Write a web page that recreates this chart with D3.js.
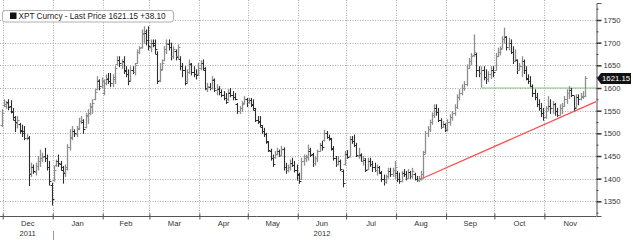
<!DOCTYPE html>
<html><head><meta charset="utf-8">
<script src="https://cdn.jsdelivr.net/npm/d3@7"></script>
<style>html,body{margin:0;padding:0;background:#fff;}svg{display:block;font-family:"Liberation Sans",Arial,sans-serif;}</style>
</head><body><svg id="c" width="633" height="240"></svg>
<script>
// ---- DATA (daily bars, XPT Curncy, 30 Nov 2011 - 26 Nov 2012) ----
const firstDay = new Date(2011,10,30), lastDay = new Date(2012,10,26);
const open = [1518,
 1562,1560,1570,1560,1548,1530,1522,1520,1508,1505,1490,1490,1412,1425,1415,1428,1440,1445,1450,1445,1425,1385,
 1398,1430,1440,1432,1420,1415,1422,1470,1492,1505,1498,1512,1528,1525,1515,1538,1545,1558,1575,1598,1615,1605,
 1590,1612,1620,1615,1610,1620,1652,1662,1650,1660,1640,1630,1618,1640,1635,1655,1680,1690,1720,1722,1705,
 1690,1700,1700,1676,1618,1642,1662,1685,1698,1690,1670,1682,1670,1665,1648,1640,1615,1635,1652,1635,1630,1630,
 1645,1655,1640,1598,1602,1600,1618,1595,1598,1592,1585,1578,1575,1590,1585,1580,1565,1550,1555,1568,1575,
 1570,1574,1565,1552,1530,1528,1515,1505,1498,1480,1462,1445,1448,1455,1460,1452,1465,1425,1420,1425,1435,1430,1420,
 1408,1400,1440,1445,1450,1460,1455,1435,1445,1462,1475,1485,1500,1492,1488,1465,1445,1432,1440,1418,1432,
 1455,1450,1488,1482,1475,1450,1452,1440,1442,1422,1440,1432,1425,1420,1425,1412,1400,1392,1405,1418,1410,1420,
 1412,1400,1395,1412,1410,1402,1415,1405,1410,1400,1398,1402,1410,1458,1500,1510,1525,1540,1555,1548,1530,1515,1520,
 1510,1525,1535,1545,1558,1580,1590,1600,1608,1645,1660,1672,1675,1640,1632,1640,1625,1620,1630,1640,
 1640,1670,1680,1688,1708,1712,1690,1700,1680,1660,1662,1640,1648,1660,1640,1620,1615,1605,1588,1580,1565,1555,1545,
 1535,1555,1560,1555,1565,1550,1540,1555,1560,1575,1590,1595,1585,1558,1580,1575,1580,1583];
const high = [1552,
 1574,1570,1574,1572,1555,1537,1537,1522,1518,1515,1497,1493,1434,1430,1434,1449,1463,1456,1467,1452,1438,1390,
 1427,1441,1452,1438,1427,1430,1475,1508,1515,1508,1515,1533,1537,1530,1544,1552,1566,1574,1596,1625,1618,1622,
 1618,1629,1632,1632,1629,1647,1669,1669,1662,1669,1647,1640,1647,1647,1654,1684,1691,1728,1735,1728,1735,
 1706,1706,1706,1680,1654,1662,1691,1706,1706,1699,1691,1684,1695,1669,1654,1647,1640,1662,1654,1647,1640,1654,
 1660,1662,1645,1610,1610,1625,1620,1607,1603,1596,1592,1588,1596,1599,1592,1588,1566,1559,1570,1581,1577,
 1577,1577,1574,1555,1537,1537,1517,1511,1500,1482,1465,1452,1460,1467,1463,1471,1468,1434,1430,1441,1445,1438,1430,
 1412,1445,1452,1452,1474,1467,1456,1449,1463,1478,1482,1507,1504,1496,1489,1471,1449,1449,1441,1419,1460,
 1462,1493,1493,1496,1478,1467,1455,1449,1444,1445,1445,1438,1434,1430,1427,1416,1408,1408,1423,1423,1423,1438,
 1416,1412,1416,1420,1416,1420,1416,1423,1412,1405,1405,1416,1460,1504,1515,1529,1545,1563,1563,1555,1532,1526,1521,
 1530,1541,1548,1563,1585,1596,1607,1614,1651,1665,1676,1717,1676,1647,1647,1647,1640,1636,1647,1647,
 1676,1688,1691,1713,1732,1713,1710,1706,1691,1684,1662,1654,1669,1662,1647,1629,1625,1607,1596,1588,1574,1566,1555,
 1559,1581,1574,1570,1566,1555,1563,1566,1581,1596,1603,1599,1581,1585,1585,1588,1592,1625];
const low = [1515,
 1559,1555,1552,1545,1530,1504,1512,1500,1493,1486,1486,1385,1405,1412,1408,1419,1427,1438,1438,1419,1386,1342,
 1394,1427,1427,1419,1390,1405,1419,1463,1486,1493,1493,1508,1522,1500,1512,1522,1541,1544,1574,1596,1596,1600,
 1585,1607,1610,1603,1603,1610,1651,1647,1643,1632,1625,1607,1615,1632,1629,1654,1676,1688,1699,1695,1684,
 1680,1691,1676,1610,1614,1640,1660,1676,1684,1662,1665,1662,1665,1640,1625,1607,1612,1632,1629,1625,1620,1628,
 1640,1640,1596,1592,1596,1598,1592,1585,1585,1581,1574,1566,1572,1581,1574,1574,1544,1544,1548,1566,1559,
 1566,1559,1552,1526,1522,1515,1500,1493,1478,1460,1441,1427,1445,1452,1449,1450,1419,1412,1415,1419,1427,1415,1397,
 1390,1398,1430,1438,1441,1449,1427,1430,1438,1460,1463,1483,1489,1485,1463,1441,1427,1430,1418,1382,1430,
 1445,1448,1478,1471,1449,1445,1438,1430,1416,1420,1427,1416,1416,1408,1412,1394,1386,1390,1401,1405,1405,1401,
 1394,1390,1393,1405,1397,1401,1401,1401,1397,1394,1394,1397,1401,1456,1493,1504,1520,1535,1540,1526,1511,1513,1504,
 1505,1518,1529,1540,1555,1574,1585,1595,1605,1643,1651,1670,1625,1625,1602,1618,1610,1614,1621,1625,
 1640,1669,1673,1688,1699,1684,1684,1676,1654,1658,1632,1640,1625,1632,1618,1610,1603,1581,1574,1559,1551,1537,1529,
 1533,1551,1544,1544,1540,1537,1540,1544,1559,1566,1577,1581,1551,1558,1563,1574,1577,1581];
const close = [1545,
 1565,1568,1558,1550,1535,1525,1530,1505,1500,1490,1492,1410,1425,1418,1428,1440,1445,1448,1445,1425,1395,1355,
 1420,1438,1435,1425,1412,1425,1470,1490,1505,1500,1510,1528,1530,1510,1540,1545,1560,1568,1592,1618,1605,1615,
 1612,1622,1615,1610,1625,1645,1662,1655,1658,1638,1630,1615,1640,1636,1650,1680,1688,1722,1725,1705,1692,
 1700,1695,1685,1615,1640,1655,1685,1700,1690,1670,1685,1668,1690,1648,1640,1612,1635,1655,1635,1630,1628,1645,
 1655,1645,1600,1605,1600,1620,1595,1600,1592,1585,1578,1570,1592,1585,1580,1576,1550,1555,1565,1575,1570,
 1574,1562,1555,1530,1526,1518,1505,1498,1482,1463,1445,1432,1455,1462,1452,1465,1425,1420,1425,1435,1430,1420,1410,
 1395,1440,1445,1448,1465,1452,1435,1445,1460,1475,1470,1500,1492,1490,1468,1445,1432,1440,1422,1390,1455,
 1448,1488,1482,1475,1452,1455,1440,1445,1420,1440,1432,1425,1420,1425,1415,1400,1392,1405,1418,1410,1420,1425,
 1400,1395,1412,1410,1402,1415,1405,1418,1400,1398,1402,1410,1455,1500,1510,1525,1540,1555,1548,1530,1515,1520,1508,
 1525,1535,1545,1558,1580,1590,1600,1608,1645,1660,1670,1680,1640,1632,1640,1625,1620,1630,1640,1635,
 1670,1680,1685,1708,1715,1690,1700,1680,1660,1665,1640,1648,1660,1640,1622,1615,1605,1588,1580,1565,1555,1545,1535,
 1550,1560,1555,1565,1550,1540,1555,1560,1575,1590,1595,1585,1555,1580,1575,1583,1583.05,1621.15];
const yTicks = [1350,1400,1450,1500,1550,1600,1650,1700,1750];
const yMinor = [1325,1375,1425,1475,1525,1575,1625,1675,1725,1775];
const monthNames = ["Dec","Jan","Feb","Mar","Apr","May","Jun","Jul","Aug","Sep","Oct","Nov"];
const yearLabels = [["Dec","2011"],["Jun","2012"]];
const trendDates = [new Date(2012,7,15), new Date(2012,11,3)];
const trendValues = [1397, 1570];
const resistDates = [new Date(2012,8,23), new Date(2012,11,3)];
const resistValues = [1600, 1600];
const lastPrice = 1621.15, netChange = 38.10;
const legendText = "XPT Curncy - Last Price " + lastPrice.toFixed(2) + " +" + netChange.toFixed(2);

// ---- CHART ----
const svg = d3.select("#c");
const R = 596, B = 216, T = 3;
const y = d3.scaleLinear().domain([1317.65, 1787.5]).range([B, T]);
const xTime = d3.scaleTime().domain([new Date(2011,10,30), new Date(2012,11,3)]).range([1.1, R]);
const dates = d3.timeDay.range(firstDay, d3.timeDay.offset(lastDay,1)).filter(d => d.getDay()!==0 && d.getDay()!==6);
const n = Math.min(dates.length, close.length);
const bpD = [], bpR = [];
dates.slice(0,n).forEach((d,i) => {
  if (i===0) { bpD.push(-0.5); bpR.push(xTime(d)); }
  else if (d.getMonth()!==dates[i-1].getMonth()) { bpD.push(i-0.5); bpR.push(xTime(d3.timeMonth.floor(d))); }
});
bpD.push(n-0.5); bpR.push(xTime(d3.timeDay.offset(dates[n-1],1)));
const xBar = d3.scaleLinear().domain(bpD).range(bpR);

const months = d3.timeMonth.range(new Date(2011,11,1), new Date(2012,11,1));

// grid
const grid = svg.append("g").attr("stroke","#a9a9a9").attr("stroke-width",1).attr("stroke-dasharray","1,1.5");
grid.selectAll("line.h").data(yTicks).join("line")
  .attr("x1",0).attr("x2",R).attr("y1",d=>Math.round(y(d))+0.5).attr("y2",d=>Math.round(y(d))+0.5);
grid.selectAll("line.v").data(months).join("line")
  .attr("x1",d=>Math.round(xTime(d))+0.5).attr("x2",d=>Math.round(xTime(d))+0.5).attr("y1",0).attr("y2",B);

// legend box
svg.append("rect").attr("x",2.5).attr("y",10.5).attr("width",171).attr("height",11.5).attr("rx",2.5)
  .attr("fill","#fff").attr("stroke","#b0b0b0");
svg.append("rect").attr("x",10).attr("y",12.5).attr("width",6.5).attr("height",6.5).attr("fill","#111");
svg.append("text").attr("x",18.5).attr("y",19).attr("font-size",8.2).attr("fill","#222").text(legendText);

// trend & resistance lines
const ln = d3.line().x(d=>xTime(d[0])).y(d=>y(d[1]));
svg.append("path").attr("d", ln(d3.zip(resistDates,resistValues))).attr("stroke","#8cc68c").attr("stroke-width",1.2).attr("fill","none");
svg.append("path").attr("d", ln(d3.zip(trendDates,trendValues))).attr("stroke","#ff4a4a").attr("stroke-width",1.2).attr("fill","none");

// bars
const bars = svg.append("g").attr("fill","none");
d3.range(n).forEach(i => {
  const x = Math.round(xBar(i)) + 0.5;
  const up = close[i] >= open[i];
  const col = up ? "#8e8e8e" : "#2e2e2e";
  const g = bars.append("g").attr("stroke", col).attr("stroke-width", up ? 1.3 : 1.1);
  g.append("line").attr("x1",x).attr("x2",x).attr("y1",y(high[i])-0.5).attr("y2",y(low[i])+0.5);
  g.append("line").attr("x1",x-2).attr("x2",x).attr("y1",Math.round(y(open[i]))+0.5).attr("y2",Math.round(y(open[i]))+0.5).attr("stroke-width",1);
  g.append("line").attr("x1",x).attr("x2",x+2).attr("y1",Math.round(y(close[i]))+0.5).attr("y2",Math.round(y(close[i]))+0.5).attr("stroke-width",1);
});

// right axis
const yAxis = svg.append("g").attr("transform",`translate(${R+0.5},0)`)
  .call(d3.axisRight(y).tickValues(yTicks).tickSize(5).tickPadding(2).tickFormat(d3.format("d")));
yAxis.select(".domain").attr("stroke","#555");
yAxis.selectAll(".tick line").attr("stroke","#333").attr("stroke-width",1.5);
yAxis.selectAll("text").attr("font-size",7.6).attr("fill","#333").attr("font-family","Liberation Sans, Arial, sans-serif");
svg.append("g").attr("transform",`translate(${R+0.5},0)`)
  .call(d3.axisRight(y).tickValues(yMinor).tickSize(2).tickFormat(""))
  .call(g => g.select(".domain").remove())
  .selectAll(".tick line").attr("stroke","#444");

// bottom axis
const xAxis = svg.append("g").attr("transform",`translate(0,${B+0.5})`)
  .call(d3.axisBottom(xTime).tickValues(months).tickSize(3).tickFormat(""));
xAxis.select(".domain").attr("d",`M0,0H${R+0.5}`).attr("stroke","#555");
xAxis.selectAll(".tick line").attr("stroke","#555").attr("y1",-3);

// month labels
const mEnd = months.map((m,i) => i<months.length-1 ? xTime(months[i+1]) : R);
svg.append("g").selectAll("text").data(months).join("text")
  .attr("x",(d,i)=>(xTime(d)+mEnd[i])/2).attr("y",226).attr("text-anchor","middle")
  .attr("font-size",7.6).attr("fill","#333").text((d,i)=>monthNames[i]);
svg.append("g").selectAll("text").data(yearLabels).join("text")
  .attr("x",d=>{const i=monthNames.indexOf(d[0]); return (xTime(months[i])+mEnd[i])/2;})
  .attr("y",236).attr("text-anchor","middle").attr("font-size",7.6).attr("fill","#333").text(d=>d[1]);
svg.append("line").attr("x1",Math.round(xTime(months[1]))+0.5).attr("x2",Math.round(xTime(months[1]))+0.5)
  .attr("y1",231).attr("y2",240).attr("stroke","#999");

// last price tag
const py = y(lastPrice);
svg.append("path").attr("d",`M${R+1},${py} L${R+5},${py-5.5} H631 V${py+5.5} H${R+5} Z`).attr("fill","#111");
svg.append("text").attr("x",R+6).attr("y",py+3).attr("font-size",7.8).attr("fill","#fff").text(lastPrice.toFixed(2));
</script></body></html>
